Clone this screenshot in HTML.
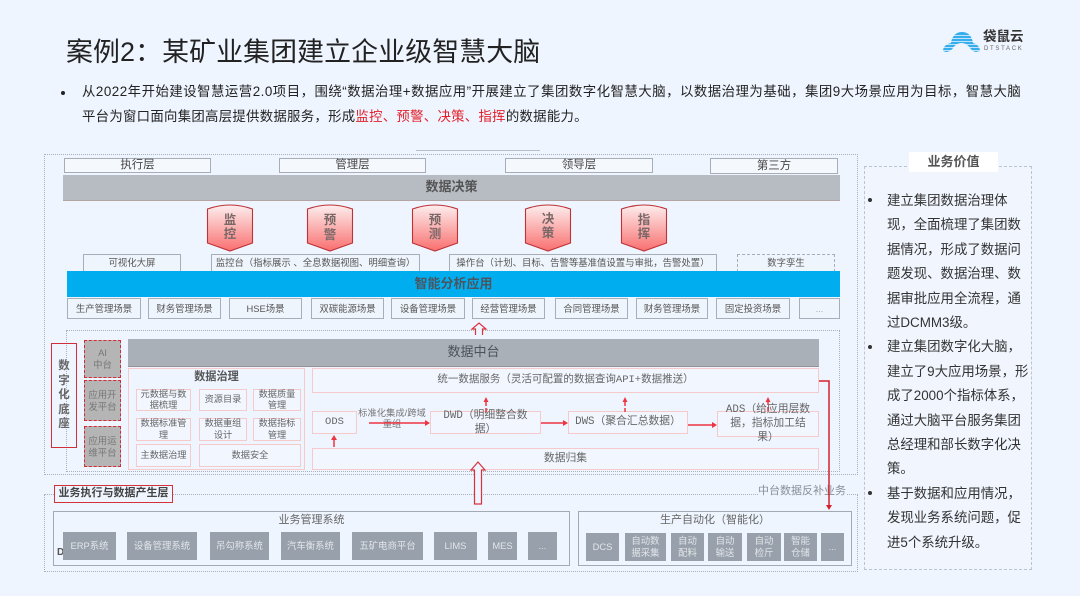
<!DOCTYPE html>
<html lang="zh"><head><meta charset="utf-8"><style>
html,body{margin:0;padding:0;background:#eff5ff}
#p{position:relative;width:1080px;height:596px;overflow:hidden;background:#eff5ff;font-family:"Liberation Sans","Noto Sans CJK SC",sans-serif;color:#555;filter:blur(.3px)}
#p div{position:absolute;box-sizing:border-box}
.c{display:flex;align-items:center;justify-content:center;text-align:center;line-height:1.25}
.h{background:#f5f8fd;border:1.5px solid #a7adb6;font-size:11.4px;color:#444}
.s{background:#eff5fd;border:1.5px solid #a8aeb8;font-size:9.4px;color:#555}
.r{background:#f1f6ff;border:1px solid #f6c9cb;font-size:9.2px;line-height:11.5px;color:#666}
.m{font-family:"Liberation Mono","Noto Sans CJK SC",monospace}
.g{background:#97a0ab;color:#e3e6ea;font-size:9.4px}
.t{white-space:nowrap}
.a{background:#b5b5b5;border:1.5px dashed #d32c35;font-size:9.4px;line-height:12px;color:#777}
</style></head><body><div id="p">

<div class="t" style="left:66px;top:33px;font-size:26.9px;line-height:38px;color:#222;letter-spacing:.12px">案例2：某矿业集团建立企业级智慧大脑</div>

<svg style="position:absolute;left:943px;top:31px" width="38" height="23" viewBox="0 0 38 23"><path d="M0 20C0 16 3 13 8 12C9 5 13 1 19 1C25 1 29 5 30 12C34 13 37 16 37 20L33 21C32 21 29 20 27 17C25 14 22 12 18.500 12C15 12 12 14 10 17C8 20 5 21 3 21Z" fill="#35aeee"/><path d="M0 4.500H37M0 7.500H37M0 10.500H37M0 13.500H37M0 16.500H37M0 19.500H37" stroke="#eff5ff" stroke-width=".7"/></svg>
<div class="t" style="left:983px;top:29px;font-size:13.5px;line-height:16px;color:#333;font-weight:700">袋鼠云</div>
<div class="t" style="left:984px;top:45px;font-size:6px;line-height:8px;letter-spacing:1.7px;color:#666">DTSTACK</div>

<div style="left:61px;top:91px;width:4px;height:4px;border-radius:50%;background:#222"></div>
<div class="t" style="left:82px;top:82px;font-size:13.4px;line-height:20px;color:#222;letter-spacing:.5px">从2022年开始建设智慧运营2.0项目，围绕“数据治理+数据应用”开展建立了集团数字化智慧大脑，以数据治理为基础，集团9大场景应用为目标，智慧大脑</div>
<div class="t" style="left:82px;top:107px;font-size:13.4px;line-height:20px;color:#222;letter-spacing:.28px">平台为窗口面向集团高层提供数据服务，形成<span style="color:#e3202a">监控、预警、决策、指挥</span>的数据能力。</div>

<div style="left:416px;top:150px;width:124px;height:1px;background:#b9bfc8"></div>
<div style="left:44px;top:154px;width:814px;height:321px;border:1px dotted #a9b0ba"></div>

<div class="c h" style="left:64px;top:158px;width:147px;height:15px">执行层</div>
<div class="c h" style="left:279px;top:158px;width:147px;height:15px">管理层</div>
<div class="c h" style="left:505px;top:158px;width:148px;height:15px">领导层</div>
<div class="c h" style="left:710px;top:158px;width:128px;height:16px">第三方</div>
<div class="c" style="left:63px;top:175px;width:777px;height:26px;background:#b7bcc3;border-bottom:1.5px solid #b3a3a3;font-size:13px;font-weight:700;color:#555">数据决策</div>

<svg style="position:absolute;left:0;top:0" width="1080" height="596">
<defs>
<linearGradient id="sg" x1="0" y1="0" x2="0" y2="1"><stop offset="0" stop-color="#fdeeee"/><stop offset="1" stop-color="#f96f6f"/></linearGradient>
<path id="sh" d="M.5 5Q23 -3 45.500 5V39L23 47L.5 39Z" fill="url(#sg)" stroke="#bd3237" stroke-width="1.100"/>
</defs>
<use href="#sh" x="207" y="204"/><use href="#sh" x="307" y="204"/><use href="#sh" x="412" y="204"/><use href="#sh" x="525" y="204"/><use href="#sh" x="621" y="204"/>
</svg>
<div class="c" style="left:207px;top:208px;width:46px;height:38px;font-size:12.500px;line-height:14.500px;font-weight:700;color:#7a6767">监<br>控</div>
<div class="c" style="left:307px;top:208px;width:46px;height:39px;font-size:12.500px;line-height:14.500px;font-weight:700;color:#7a6767">预<br>警</div>
<div class="c" style="left:412px;top:208px;width:46px;height:38px;font-size:12.500px;line-height:14.500px;font-weight:700;color:#7a6767">预<br>测</div>
<div class="c" style="left:525px;top:207px;width:46px;height:38px;font-size:12.500px;line-height:14.500px;font-weight:700;color:#7a6767">决<br>策</div>
<div class="c" style="left:621px;top:208px;width:46px;height:38px;font-size:12.500px;line-height:14.500px;font-weight:700;color:#7a6767">指<br>挥</div>

<div class="c s" style="left:83px;top:254px;width:98px;height:18px">可视化大屏</div>
<div class="c s t" style="left:211px;top:254px;width:209px;height:18px">监控台（指标展示 、全息数据视图、明细查询）</div>
<div class="c s t" style="left:449px;top:254px;width:268px;height:18px">操作台（计划、目标、告警等基准值设置与审批，告警处置）</div>
<div class="c s" style="left:737px;top:254px;width:98px;height:18px;border-style:dashed">数字孪生</div>
<div class="c" style="left:67px;top:271px;width:773px;height:26px;background:#00aeef;font-size:13px;font-weight:700;color:#4a5560">智能分析应用</div>

<div class="c s" style="left:67px;top:298px;width:74px;height:21px">生产管理场景</div>
<div class="c s" style="left:148px;top:298px;width:73px;height:21px">财务管理场景</div>
<div class="c s" style="left:229px;top:298px;width:73px;height:21px">HSE场景</div>
<div class="c s" style="left:311px;top:298px;width:73px;height:21px">双碳能源场景</div>
<div class="c s" style="left:391px;top:298px;width:74px;height:21px">设备管理场景</div>
<div class="c s" style="left:472px;top:298px;width:73px;height:21px">经营管理场景</div>
<div class="c s" style="left:555px;top:298px;width:73px;height:21px">合同管理场景</div>
<div class="c s" style="left:636px;top:298px;width:72px;height:21px">财务管理场景</div>
<div class="c s" style="left:716px;top:298px;width:74px;height:21px">固定投资场景</div>
<div class="c s" style="left:799px;top:298px;width:41px;height:21px;color:#aaa">...</div>

<div style="left:66px;top:330px;width:774px;height:142px;border:1px dotted #a9b0ba"></div>

<div class="c" style="left:51px;top:343px;width:26px;height:105px;border:1.500px solid #cf2f38;font-size:11.500px;font-weight:700;color:#666;line-height:14.500px">数<br>字<br>化<br>底<br>座</div>
<div class="c a" style="left:84px;top:340px;width:37px;height:38px">AI<br>中台</div>
<div class="c a" style="left:84px;top:380px;width:37px;height:41px">应用开<br>发平台</div>
<div class="c a" style="left:84px;top:426px;width:37px;height:41px">应用运<br>维平台</div>

<div class="c" style="left:128px;top:339px;width:691px;height:28px;background:#a9b0b8;border-bottom:1px solid #9b8f8f;font-size:13px;color:#4d5258">数据中台</div>

<div style="left:128px;top:368px;width:177px;height:102px;border:1px solid #f6c9cb"></div>
<div class="c" style="left:128px;top:369px;width:177px;height:16px;font-size:11.200px;font-weight:700;color:#555">数据治理</div>
<div class="c r" style="left:136px;top:389px;width:55px;height:22px">元数据与数<br>据梳理</div>
<div class="c r" style="left:199px;top:389px;width:48px;height:22px">资源目录</div>
<div class="c r" style="left:253px;top:389px;width:48px;height:22px">数据质量<br>管理</div>
<div class="c r" style="left:136px;top:418px;width:55px;height:23px">数据标准管<br>理</div>
<div class="c r" style="left:199px;top:418px;width:48px;height:23px">数据重组<br>设计</div>
<div class="c r" style="left:253px;top:418px;width:48px;height:23px">数据指标<br>管理</div>
<div class="c r" style="left:136px;top:444px;width:55px;height:23px">主数据治理</div>
<div class="c r" style="left:199px;top:444px;width:102px;height:23px">数据安全</div>

<div class="c r t m" style="left:312px;top:368px;width:507px;height:25px;font-size:10.500px">统一数据服务（灵活可配置的数据查询API+数据推送）</div>
<div class="c r m" style="left:312px;top:411px;width:45px;height:23px;font-size:10.500px">ODS</div>
<div class="r" style="left:430px;top:411px;width:111px;height:23px"></div>
<div class="c t m" style="left:430px;top:409px;width:111px;height:28px;font-size:10.800px;color:#666;line-height:14px">DWD（明细整合数<br>据）</div>
<div class="c r t m" style="left:568px;top:411px;width:120px;height:23px;font-size:10.800px">DWS（聚合汇总数据）</div>
<div class="r" style="left:717px;top:411px;width:102px;height:26px"></div>
<div class="c m" style="left:717px;top:403px;width:102px;height:42px;font-size:10.800px;color:#666;line-height:14px">ADS（给应用层数<br>据，指标加工结<br>果）</div>
<div class="c r" style="left:312px;top:448px;width:507px;height:22px;font-size:10.800px">数据归集</div>
<div class="c t" style="left:358px;top:407px;width:68px;height:23px;font-size:9.300px;line-height:11px;color:#777">标准化集成/跨域<br>重组</div>

<div style="left:44px;top:494px;width:814px;height:78px;border:1px dotted #a9b0ba"></div>
<div class="t" style="left:57px;top:547px;font-size:10px;line-height:12px;font-weight:700;color:#555">D</div>
<div class="c" style="left:54px;top:485px;width:119px;height:18px;background:#eff5ff;border:1.500px solid #d2323a;font-size:11px;font-weight:700;color:#444;white-space:nowrap">业务执行与数据产生层</div>
<div class="t" style="left:758px;top:484px;font-size:11px;line-height:15px;color:#8a8f96;background:#eff5ff">中台数据反补业务</div>

<div class="c" style="left:53px;top:511px;width:517px;height:55px;border:1.500px solid #a3aab4;align-items:flex-start;font-size:11px;padding-top:2px;color:#666">业务管理系统</div>
<div class="c g" style="left:63px;top:532px;width:53px;height:28px">ERP系统</div>
<div class="c g" style="left:127px;top:532px;width:70px;height:28px">设备管理系统</div>
<div class="c g" style="left:210px;top:532px;width:59px;height:28px">吊勾称系统</div>
<div class="c g" style="left:281px;top:532px;width:59px;height:28px">汽车衡系统</div>
<div class="c g" style="left:352px;top:532px;width:71px;height:28px">五矿电商平台</div>
<div class="c g" style="left:434px;top:532px;width:43px;height:28px">LIMS</div>
<div class="c g" style="left:488px;top:532px;width:29px;height:28px">MES</div>
<div class="c g" style="left:528px;top:532px;width:29px;height:28px">...</div>

<div class="c" style="left:578px;top:511px;width:274px;height:55px;border:1.500px solid #a3aab4;align-items:flex-start;font-size:11px;padding-top:2px;color:#666">生产自动化（智能化）</div>
<div class="c g" style="left:586px;top:533px;width:33px;height:28px">DCS</div>
<div class="c g" style="left:625px;top:533px;width:41px;height:28px">自动数<br>据采集</div>
<div class="c g" style="left:671px;top:533px;width:33px;height:28px">自动<br>配料</div>
<div class="c g" style="left:708px;top:533px;width:34px;height:28px">自动<br>输送</div>
<div class="c g" style="left:747px;top:533px;width:34px;height:28px">自动<br>检斤</div>
<div class="c g" style="left:784px;top:533px;width:33px;height:28px">智能<br>仓储</div>
<div class="c g" style="left:821px;top:533px;width:23px;height:28px">...</div>

<svg style="position:absolute;left:0;top:0" width="1080" height="596" fill="none">
<path d="M475.500 335V329H472L479 323L486 329H482.500V335" fill="#eff5ff" stroke="#d7313a" stroke-width="1.200"/>
<path d="M474.500 504V470H471L478 462L485 470H481.500V504Z" fill="#eff5ff" stroke="#d7313a" stroke-width="1.200"/>
<g stroke="#ee3440" stroke-width="1.500">
<path d="M369 423H427M541 423H565M688 425H714M334 447V438"/>
<path d="M486 412V402M625 412V402M768 411V402" stroke-dasharray="4 2"/>
<path d="M819 381H829V507" stroke="#d4222c"/>
</g>
<g fill="#ee3440">
<path d="M430 423L425 420V426ZM568 423L563 420V426ZM717 425L712 422V428ZM334 435L331 440H337ZM486 397L483.500 402H488.500ZM625 397L622.500 402H627.500ZM768 397L765.500 402H770.500Z"/>
<path d="M829 510L826 505H832Z" fill="#d4222c"/>
</g>
</svg>

<div style="left:864px;top:166px;width:168px;height:404px;border:1px dashed #bcc4cf;background:#f0f5fe"></div>
<div class="c" style="left:909px;top:152px;width:89px;height:20px;background:#fff;font-size:13px;font-weight:700;color:#555">业务价值</div>
<div style="left:868px;top:198px;width:4px;height:4px;border-radius:50%;background:#333"></div>
<div style="left:868px;top:345px;width:4px;height:4px;border-radius:50%;background:#333"></div>
<div style="left:868px;top:491px;width:4px;height:4px;border-radius:50%;background:#333"></div>
<div class="t" style="left:887px;top:189px;font-size:13.400px;line-height:24.400px;color:#333">建立集团数据治理体<br>现，全面梳理了集团数<br>据情况，形成了数据问<br>题发现、数据治理、数<br>据审批应用全流程，通<br>过DCMM3级。<br>建立集团数字化大脑，<br>建立了9大应用场景，形<br>成了2000个指标体系，<br>通过大脑平台服务集团<br>总经理和部长数字化决<br>策。<br>基于数据和应用情况，<br>发现业务系统问题，促<br>进5个系统升级。</div>
</div></body></html>
